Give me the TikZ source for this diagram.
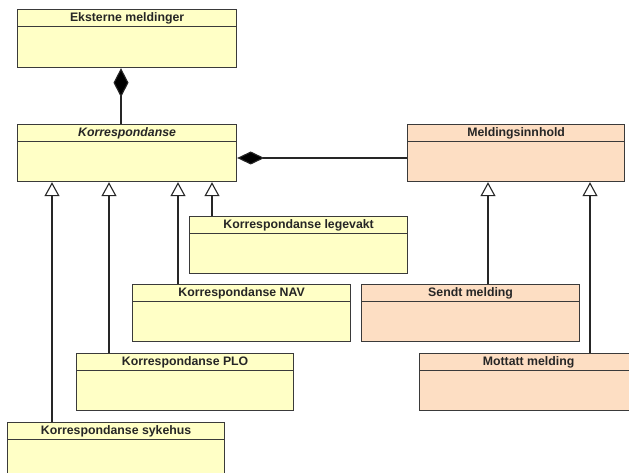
\documentclass[tikz,border=0pt]{standalone}
\usepackage{fontspec}
\setmainfont{Liberation Sans}
\usetikzlibrary{arrows.meta}
\definecolor{classyellow}{HTML}{FFFFC6}
\definecolor{classpeach}{HTML}{FDDEC3}
\definecolor{classline}{HTML}{3A3A3A}
\tikzset{
  classbox/.style={draw=classline, line width=1.2pt, inner sep=0pt, anchor=north west},
  headline/.style={draw=classline, line width=1.1pt},
  classtitle/.style={inner sep=0pt, font=\fontsize{12.3}{14}\selectfont\bfseries, text=black!85},
  edge/.style={draw=black!85, line width=1.1pt},
  gen/.style={edge, -{Triangle[open, width=15pt, length=14pt, line width=1.1pt]}},
  compo/.style={edge, -{Diamond[width=15pt, length=29pt, fill=black]}},
  compoh/.style={edge, -{Diamond[width=13pt, length=27pt, fill=black]}},
}
% name, left, top, width, height, fill, title
\newcommand{\umlclassbox}[7]{%
  \node[classbox, fill=#6, minimum width=#4pt, minimum height=#5pt] (#1) at (#2,#3) {};
  \draw[headline] ([yshift=-17.5pt]#1.north west) -- ([yshift=-17.5pt]#1.north east);
  \node[classtitle] (#1-title) at ([yshift=-9pt]#1.north) {#7};
}
\begin{document}
\begin{tikzpicture}[x=1pt, y=-1pt]
  \useasboundingbox (0,0) rectangle (629,473);
  \clip (0,0) rectangle (629,473);
  \fill[white] (0,0) rectangle (629,473);

  % classes
  \umlclassbox{eks}{17}{9}{219}{58}{classyellow}{Eksterne meldinger}
  \umlclassbox{korr}{17}{124}{219}{57}{classyellow}{\itshape Korrespondanse}
  \umlclassbox{meld}{407}{124}{217}{57}{classpeach}{Meldingsinnhold}
  \umlclassbox{lege}{189}{216}{218}{57}{classyellow}{Korrespondanse legevakt}
  \umlclassbox{nav}{132}{284}{218}{57}{classyellow}{Korrespondanse NAV}
  \umlclassbox{sendt}{361}{284}{218}{57}{classpeach}{Sendt melding}
  \umlclassbox{plo}{76}{353}{217}{57}{classyellow}{Korrespondanse PLO}
  \umlclassbox{mott}{419}{353}{218}{57}{classpeach}{Mottatt melding}
  \umlclassbox{syk}{7}{422}{217}{62}{classyellow}{Korrespondanse sykehus}

  % connector columns and rows
  \coordinate (cEks) at (121,0);
  \coordinate (rMeld) at (0,158);
  \coordinate (gSyk) at (52,0);
  \coordinate (gPlo) at (109,0);
  \coordinate (gNav) at (178,0);
  \coordinate (gLege) at (212,0);
  \coordinate (gSendt) at (488,0);
  \coordinate (gMott) at (590,0);

  % compositions
  \draw[compo] (cEks |- korr.north) -- (cEks |- eks.south);
  \draw[compoh] (meld.west |- rMeld) -- (korr.east |- rMeld);

  % generalizations
  \draw[gen] (gSyk |- syk.north) -- (gSyk |- korr.south);
  \draw[gen] (gPlo |- plo.north) -- (gPlo |- korr.south);
  \draw[gen] (gNav |- nav.north) -- (gNav |- korr.south);
  \draw[gen] (gLege |- lege.north) -- (gLege |- korr.south);
  \draw[gen] (gSendt |- sendt.north) -- (gSendt |- meld.south);
  \draw[gen] (gMott |- mott.north) -- (gMott |- meld.south);
\end{tikzpicture}
\end{document}
